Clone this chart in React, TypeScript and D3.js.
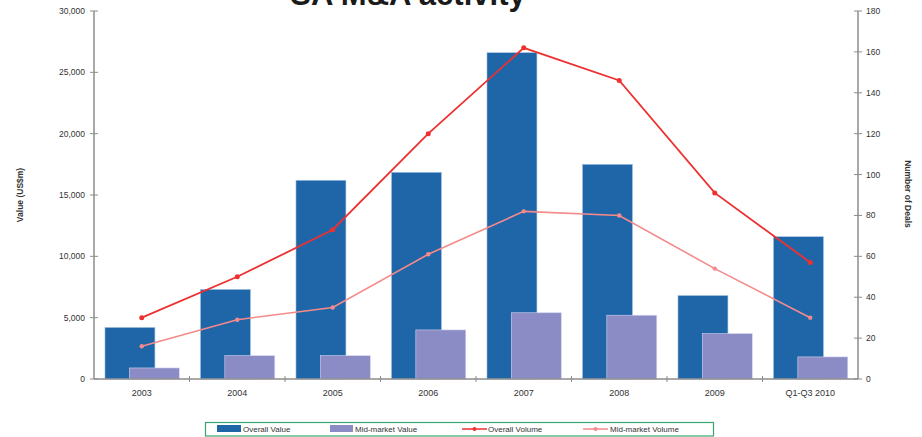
import React from "react";
import * as d3 from "d3";

const categories = ["2003", "2004", "2005", "2006", "2007", "2008", "2009", "Q1-Q3 2010"];
const overallValue = [4200, 7300, 16200, 16850, 26600, 17500, 6800, 11600];
const midValue = [900, 1900, 1900, 4000, 5400, 5200, 3700, 1800];
const overallVolume = [30, 50, 73, 120, 162, 146, 91, 57];
const midVolume = [16, 29, 35, 61, 82, 80, 54, 30];
const leftTicks = [0, 5000, 10000, 15000, 20000, 25000, 30000];
const rightTicks = [0, 20, 40, 60, 80, 100, 120, 140, 160, 180];

const W = 922, H = 437;
const left = 94, right = 858, top = 11, bottom = 379;

export default function App() {
  const x = d3.scaleBand<string>().domain(categories).range([left, right]);
  const yL = d3.scaleLinear().domain([0, 30000]).range([bottom, top]);
  const yR = d3.scaleLinear().domain([0, 180]).range([bottom, top]);
  const bw = x.bandwidth();
  const barW = bw * 0.523;
  const fmt = d3.format(",");
  const lineGen = d3
    .line<number>()
    .x((_, i) => (x(categories[i]) as number) + bw / 2)
    .y((d) => yR(d));
  const font = "'Liberation Sans', Arial, sans-serif";
  const axisColor = "#8c8c8c";
  const textColor = "#333";
  const legendY = 429;
  return (
    <svg width={W} height={H} style={{ position: "absolute", left: 0, top: 0 }} fontFamily={font}>
      <rect width={W} height={H} fill="#fff" />
      <text x={408} y={5} textAnchor="middle" fontSize={31} fontWeight="bold" fill="#1a1a1a">
        SA M&amp;A activity
      </text>
      {/* bars */}
      {categories.map((c, i) => {
        const x0 = x(c) as number;
        return (
          <g key={c}>
            <rect
              x={x0 + bw * 0.115}
              y={yL(overallValue[i])}
              width={barW}
              height={bottom - yL(overallValue[i])}
              fill="#1f66a8"
              stroke="#9fc0e0"
              strokeWidth={0.6}
            />
            <rect
              x={x0 + bw * 0.37}
              y={yL(midValue[i])}
              width={barW}
              height={bottom - yL(midValue[i])}
              fill="#8b8cc5"
              stroke="#d4d4ee"
              strokeWidth={0.6}
            />
          </g>
        );
      })}
      {/* lines */}
      <path d={lineGen(midVolume) || ""} fill="none" stroke="#f58a8a" strokeWidth={1.6} />
      {midVolume.map((v, i) => (
        <circle key={"m" + i} cx={(x(categories[i]) as number) + bw / 2} cy={yR(v)} r={2.2} fill="#f58a8a" />
      ))}
      <path d={lineGen(overallVolume) || ""} fill="none" stroke="#ee3030" strokeWidth={1.8} />
      {overallVolume.map((v, i) => (
        <circle key={"o" + i} cx={(x(categories[i]) as number) + bw / 2} cy={yR(v)} r={2.5} fill="#ee3030" />
      ))}
      {/* left axis */}
      <line x1={left} x2={left} y1={top} y2={bottom} stroke={axisColor} strokeWidth={1.5} />
      {leftTicks.map((t) => (
        <g key={"l" + t}>
          <line x1={left - 4} x2={left + 4} y1={yL(t)} y2={yL(t)} stroke={axisColor} strokeWidth={1} />
          <text x={left - 9} y={yL(t)} dy="0.35em" textAnchor="end" fontSize={8.5} fill={textColor}>
            {fmt(t)}
          </text>
        </g>
      ))}
      {/* right axis */}
      <line x1={right} x2={right} y1={top} y2={bottom} stroke={axisColor} strokeWidth={1.5} />
      {rightTicks.map((t) => (
        <g key={"r" + t}>
          <line x1={right - 4} x2={right + 4} y1={yR(t)} y2={yR(t)} stroke={axisColor} strokeWidth={1} />
          <text x={right + 8} y={yR(t)} dy="0.35em" textAnchor="start" fontSize={8.5} fill={textColor}>
            {t}
          </text>
        </g>
      ))}
      {/* x axis */}
      <line x1={left} x2={right} y1={bottom} y2={bottom} stroke={axisColor} strokeWidth={1.5} />
      {categories.map((c, i) => (
        <g key={"x" + c}>
          {i > 0 && (
            <line x1={x(c) as number} x2={x(c) as number} y1={bottom - 3} y2={bottom + 3} stroke={axisColor} strokeWidth={1} />
          )}
          <text x={(x(c) as number) + bw / 2} y={396} textAnchor="middle" fontSize={9} fill={textColor}>
            {c}
          </text>
        </g>
      ))}
      {/* axis titles */}
      <text
        transform={`translate(23,195) rotate(-90)`}
        textAnchor="middle"
        fontSize={8.5}
        fontWeight="bold"
        fill={textColor}
      >
        Value (US$m)
      </text>
      <text
        transform={`translate(905,194) rotate(90)`}
        textAnchor="middle"
        fontSize={8.5}
        fontWeight="bold"
        fill={textColor}
      >
        Number of Deals
      </text>
      {/* legend */}
      <rect x={205.5} y={422.5} width={508} height={13.5} fill="#fff" stroke="#3aa66f" strokeWidth={1.2} />
      <rect x={217} y={425} width={24} height={7} fill="#1f66a8" />
      <text x={243} y={legendY} dy="0.35em" fontSize={8} fill={textColor}>Overall Value</text>
      <rect x={330} y={425} width={23} height={7} fill="#8b8cc5" />
      <text x={355} y={legendY} dy="0.35em" fontSize={8} fill={textColor}>Mid-market Value</text>
      <line x1={462} x2={487} y1={legendY} y2={legendY} stroke="#ee3030" strokeWidth={1.5} />
      <circle cx={474.5} cy={legendY} r={2} fill="#ee3030" />
      <text x={488} y={legendY} dy="0.35em" fontSize={8} fill={textColor}>Overall Volume</text>
      <line x1={583} x2={608} y1={legendY} y2={legendY} stroke="#f58a8a" strokeWidth={1.5} />
      <circle cx={595.5} cy={legendY} r={2} fill="#f58a8a" />
      <text x={610} y={legendY} dy="0.35em" fontSize={8} fill={textColor}>Mid-market Volume</text>
    </svg>
  );
}
